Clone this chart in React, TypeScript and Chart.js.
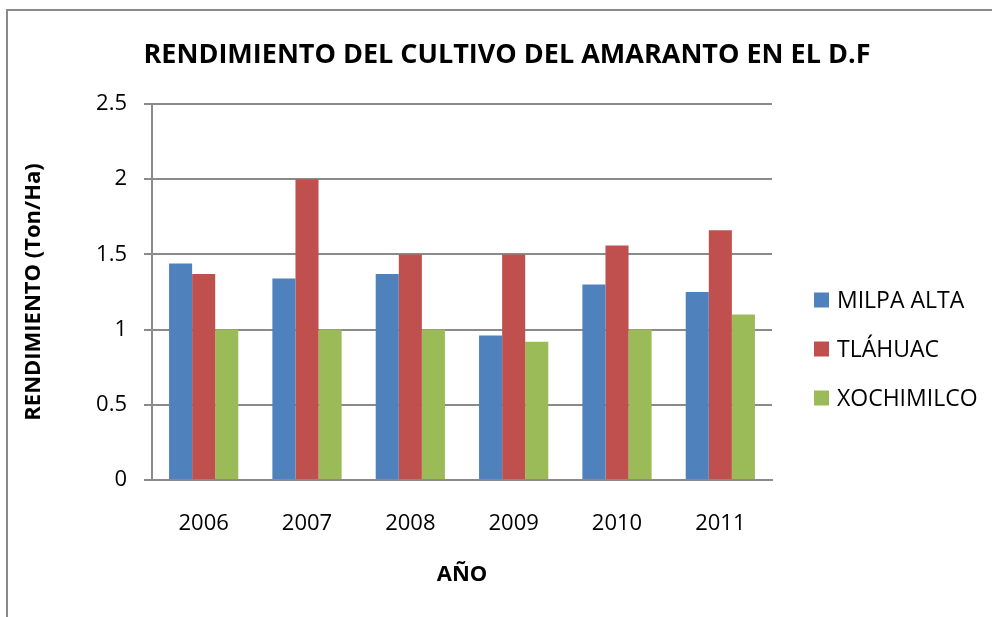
import React, { useEffect, useRef } from "react";
import { Chart, registerables } from "chart.js";

Chart.register(...registerables);

const years = ["2006", "2007", "2008", "2009", "2010", "2011"];
const milpaAlta = [1.44, 1.34, 1.37, 0.96, 1.3, 1.25];
const tlahuac = [1.37, 2.0, 1.5, 1.5, 1.56, 1.66];
const xochimilco = [1.0, 1.0, 1.0, 0.92, 1.0, 1.1];
const seriesNames = ["MILPA ALTA", "TLÁHUAC", "XOCHIMILCO"];
const seriesColors = ["#4F81BD", "#C0504D", "#9BBB59"];
const titleText = "RENDIMIENTO DEL CULTIVO DEL AMARANTO EN EL D.F";
const yTitle = "RENDIMIENTO (Ton/Ha)";
const xTitle = "AÑO";

const FONT = "'Open Sans', sans-serif";

const decorPlugin = {
  id: "decor",
  beforeDraw(chart: any) {
    const ctx = chart.ctx;
    ctx.save();
    ctx.strokeStyle = "#8a8a8a";
    ctx.lineWidth = 2;
    ctx.beginPath();
    ctx.moveTo(7, chart.height + 5);
    ctx.lineTo(7, 10);
    ctx.lineTo(chart.width + 5, 10);
    ctx.stroke();
    ctx.restore();
  },
  afterDraw(chart: any) {
    const ctx = chart.ctx;
    ctx.save();
    ctx.fillStyle = "#000";
    ctx.font = `bold 27px ${FONT}`;
    ctx.textAlign = "center";
    ctx.textBaseline = "middle";
    ctx.fillText(titleText, 507, 55);
    // legend
    ctx.font = `23px ${FONT}`;
    ctx.textAlign = "left";
    chart.data.datasets.forEach((ds: any, i: number) => {
      const cy = 300 + i * 49;
      ctx.fillStyle = ds.backgroundColor;
      ctx.fillRect(814, cy - 7.5, 15, 15);
      ctx.fillStyle = "#000";
      ctx.fillText(ds.label, 837, cy + 1);
    });
    ctx.restore();
  },
};

export default function App() {
  const ref = useRef<HTMLCanvasElement>(null);
  useEffect(() => {
    document.body.style.margin = "0";
    const canvas = ref.current!;
    const seriesData = [milpaAlta, tlahuac, xochimilco];
    const chart = new Chart(canvas, {
      type: "bar",
      data: {
        labels: years,
        datasets: seriesData.map((d, i) => ({
          label: seriesNames[i],
          data: d,
          backgroundColor: seriesColors[i],
          borderWidth: 0,
          categoryPercentage: 0.67,
          barPercentage: 1.0,
        })),
      },
      options: {
        responsive: false,
        animation: false,
        events: [],
        layout: { padding: { left: 0, top: 104, right: 220, bottom: 0 } },
        plugins: {
          legend: { display: false },
          title: { display: false },
          tooltip: { enabled: false },
        },
        scales: {
          x: {
            grid: { display: false },
            border: { display: true, color: "#8a8a8a", width: 2 },
            ticks: {
              color: "#000",
              font: { family: FONT, size: 22 },
              padding: 23,
              maxRotation: 0,
            },
            title: {
              display: true,
              text: xTitle,
              color: "#000",
              font: { family: FONT, size: 22, weight: "bold" },
              padding: { top: 0, bottom: 29 },
            },
            afterFit: (scale: any) => {
              scale.height = 137;
            },
          },
          y: {
            min: 0,
            max: 2.5,
            ticks: {
              stepSize: 0.5,
              color: "#000",
              font: { family: FONT, size: 22 },
              padding: 17,
              callback: (v: any) => String(Number(v)),
            },
            grid: {
              color: "#8a8a8a",
              lineWidth: 2,
              tickLength: 8,
              drawTicks: true,
            },
            border: { display: true, color: "#8a8a8a", width: 2 },
            title: {
              display: true,
              text: yTitle,
              color: "#000",
              font: { family: FONT, size: 22, weight: "bold" },
              padding: { top: 21, bottom: 0 },
            },
            afterFit: (scale: any) => {
              scale.width = 152;
            },
          },
        },
      },
      plugins: [decorPlugin],
    } as any);
    return () => chart.destroy();
  }, []);
  return (
    <canvas
      ref={ref}
      width={992}
      height={617}
      style={{ display: "block", width: 992, height: 617 }}
    />
  );
}
